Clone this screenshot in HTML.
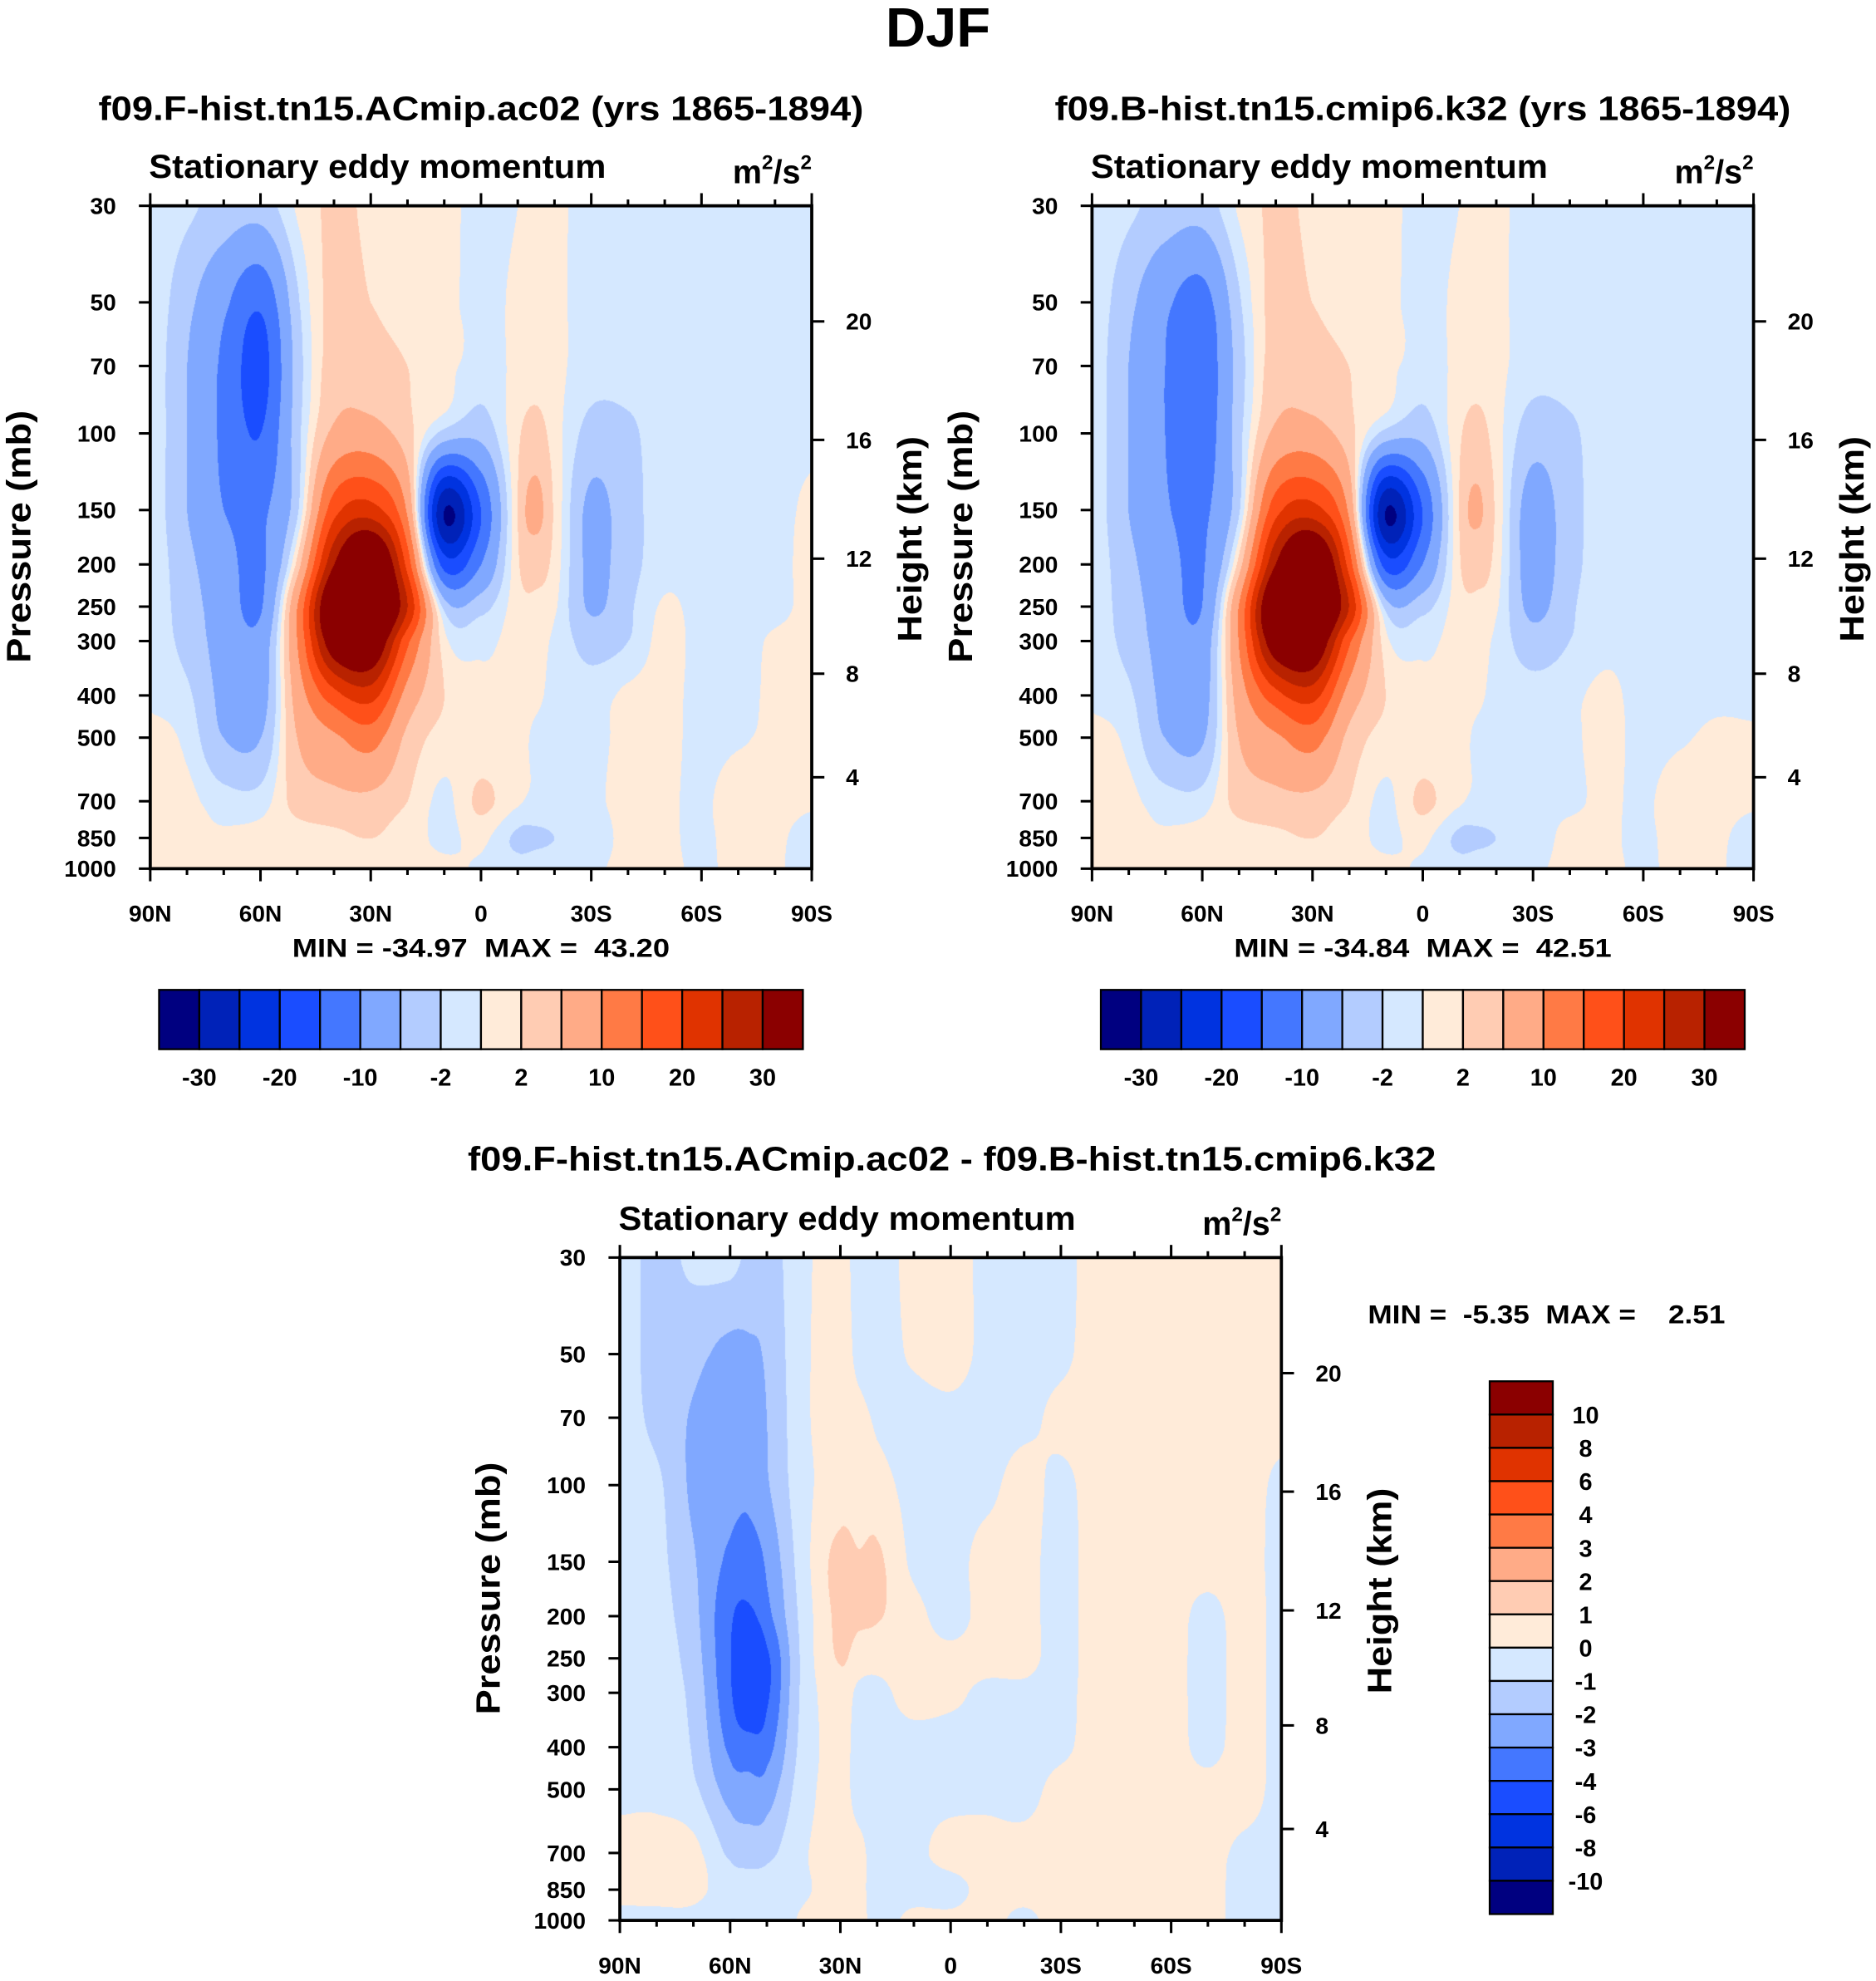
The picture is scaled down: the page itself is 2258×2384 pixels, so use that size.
<!DOCTYPE html>
<html><head><meta charset="utf-8">
<style>
html,body{margin:0;padding:0;background:#fff;}
#wrap{position:relative;width:2258px;height:2384px;overflow:hidden;background:#fff;}
canvas{position:absolute;display:block;}
#ov{position:absolute;left:0;top:0;}
text{font-family:"Liberation Sans",Arial,sans-serif;font-weight:bold;fill:#000;}
</style></head>
<body>
<div id="wrap">
<canvas id="c1"></canvas>
<canvas id="c2"></canvas>
<canvas id="c3"></canvas>
<svg id="ov" width="2258" height="2384" viewBox="0 0 1486 1569" preserveAspectRatio="none" xmlns="http://www.w3.org/2000/svg">
<text x="743" y="37" font-size="44" text-anchor="middle">DJF</text>
<text x="381" y="95" font-size="27" text-anchor="middle" textLength="606" lengthAdjust="spacingAndGlyphs">f09.F-hist.tn15.ACmip.ac02 (yrs 1865-1894)</text>
<text x="1127" y="95" font-size="27" text-anchor="middle" textLength="583" lengthAdjust="spacingAndGlyphs">f09.B-hist.tn15.cmip6.k32 (yrs 1865-1894)</text>
<text x="754" y="927" font-size="27" text-anchor="middle" textLength="767" lengthAdjust="spacingAndGlyphs">f09.F-hist.tn15.ACmip.ac02 - f09.B-hist.tn15.cmip6.k32</text>
<text x="381" y="758" font-size="21" text-anchor="middle" textLength="299" lengthAdjust="spacingAndGlyphs" xml:space="preserve">MIN = -34.97  MAX =  43.20</text>
<text x="1127" y="758" font-size="21" text-anchor="middle" textLength="299" lengthAdjust="spacingAndGlyphs" xml:space="preserve">MIN = -34.84  MAX =  42.51</text>
<text x="1225" y="1048" font-size="21" text-anchor="middle" textLength="283" lengthAdjust="spacingAndGlyphs" xml:space="preserve">MIN =  -5.35  MAX =    2.51</text>
</svg>
</div>
<script>
const SX = 2258/1486, SY = 2384/1569;
const NS = 'http://www.w3.org/2000/svg';
const svg = document.getElementById('ov');

// ---------- data ----------
const levels = [30,50,70,100,150,200,250,300,400,500,700,850,1000];
const bounds12 = [-30,-25,-20,-15,-10,-5,-2,0,2,5,10,15,20,25,30];
const bounds3 = [-10,-8,-6,-4,-3,-2,-1,0,1,2,3,4,6,8,10];
const cbLabels12 = ['-30','-20','-10','-2','2','10','20','30'];
const cbLabels3 = ['-10','-8','-6','-4','-3','-2','-1','0','1','2','3','4','6','8','10'];
const colors = ['#000080','#0022b8','#0033e0','#1a4dff','#4477ff','#80a8ff','#b3ccff','#d5e8ff','#ffebd9','#ffccb3','#ffab87','#ff7a45','#ff5019','#e03300','#b82200','#8b0000'];
const xTickLabels = ['90N','60N','30N','0','30S','60S','90S'];
const xTickLats = [90,60,30,0,-30,-60,-90];
const pTickLabels = [30,50,70,100,150,200,250,300,400,500,700,850,1000];
const hTickLabels = [4,8,12,16,20];
const hTickPressures = [616.6,356.5,194.0,103.5,55.3];

const lats1 = [90,80,70,60,50,40,30,20,10,0,-10,-15,-20,-30,-40,-50,-60,-70,-80,-90];
const field1 = [
[-0.5,-0.5,-0.5,-0.5,-0.5,-0.5,-0.5,-0.5,-0.3,0.5,0.5,0.5,0.5],
[-1.5,-4,-5,-5,-5,-4,-3.5,-3,-1.5,-0.5,0.5,0.3,0.5],
[-3,-9,-11,-11,-10,-8,-7,-6.5,-6,-5,-1,0.3,1],
[-3.5,-14,-17,-15,-11,-11,-10.5,-8,-7,-5,-1,0.8,2],
[0.3,-2.5,-3.5,-3,-2.5,3,10,10,7,5,3,1,1],
[2.5,3,3.5,6,18,30,40,35,18,9,4,1.5,1.5],
[1.5,2,3,7,22,42,45,38,22,12,4,2,1],
[1,1.5,2,3,9,18,25,16,8,4,2,1,0.8],
[0.5,0.5,0.8,-3,-30,-17,-3,0.8,2,1,-0.5,-0.5,0.5],
[-0.5,-0.5,-1,-4,-15,-10,-3,-0.5,0.5,0.5,2.5,0.5,-0.3],
[0,0.3,0.5,1.5,2,1.5,1,0.8,0.5,0.5,0.3,-2.5,-1],
[0.5,0.7,1,3,6,3,1.5,0.8,0.3,-0.3,-0.3,-2.5,-0.5],
[0.5,0.5,0.5,0.8,1.5,1,0.3,-0.5,-0.5,-0.5,-0.5,-2,-0.5],
[-1,-1,-1,-3,-6,-6,-5.5,-3,-1,-0.8,-0.5,-1.5,-0.5],
[-1,-1,-1,-2.5,-3,-3,-2.5,-2,0.5,0.8,0.8,0.8,0.8],
[-0.8,-0.8,-0.8,-0.8,-1,-0.8,0.3,0.8,0.8,0.8,0.5,0.5,0.5],
[-0.8,-0.8,-0.8,-0.8,-0.8,-0.8,-0.8,-0.8,-0.8,-0.8,-0.5,-0.5,-0.3],
[-0.8,-0.8,-0.8,-0.8,-0.8,-0.8,-0.8,-0.8,-0.8,-0.3,1.5,1,0.5],
[-0.5,-0.5,-0.5,-0.5,-0.5,-0.5,-0.5,0.3,0.5,0.5,0.8,0.5,0.3],
[-0.5,-0.5,-0.5,-0.3,0.3,0.5,0.5,0.5,0.5,0.5,0.3,-1,-1]
];
const lats2 = [90,80,70,60,50,40,30,20,10,0,-10,-15,-20,-30,-40,-50,-60,-70,-80,-90];
const field2 = [
[-0.5,-0.5,-0.5,-0.5,-0.5,-0.5,-0.5,-0.5,-0.3,0.5,0.5,0.5,0.5],
[-1.5,-4,-5,-5,-5,-4,-3.5,-3,-1.5,-0.5,0.5,0.3,0.5],
[-3,-9,-10,-10,-9.5,-8,-7,-6.5,-6,-5,-1,0.3,1],
[-3.5,-12,-13.5,-13,-11,-10.5,-10,-8,-7,-5.5,-1,0.8,2],
[0.3,-2.5,-3.5,-3,-2.5,3,10,10,7,5,3,1,1],
[2.5,3,3.5,6,18,30,40,35,18,9,4,1.5,1.5],
[1.5,2,3,7,22,42,44,38,22,12,4,2,1],
[1,1.5,2,3,9,18,25,16,8,4,2,1,0.8],
[0.5,0.5,0.8,-3,-30,-17,-3,0.8,2,1,-0.5,-0.5,0.5],
[-0.5,-0.5,-1,-4,-15,-10,-3,-0.5,0.5,0.5,2.5,0.5,-0.3],
[0,0.3,0.5,1.5,2,1.5,1,0.8,0.5,0.5,0.3,-2.5,-1],
[0.5,0.7,1,3,5.5,3,1.5,0.8,0.3,-0.3,-0.3,-2.5,-0.5],
[0.5,0.5,0.5,0.8,1.5,1,0.3,-0.5,-0.5,-0.5,-0.5,-2,-0.5],
[-1,-1,-1,-3.5,-7,-7,-6,-3.5,-1,-0.8,-0.5,-1.5,-0.5],
[-1,-1,-1,-2.5,-3,-3,-2.5,-2,-0.5,-0.5,-0.5,0.8,0.8],
[-0.8,-0.8,-0.8,-0.8,-1,-0.8,-0.5,-0.5,0.5,0.8,0.5,0.5,0.5],
[-0.8,-0.8,-0.8,-0.8,-0.8,-0.8,-0.8,-0.8,-0.8,-0.8,-0.5,-0.5,-0.3],
[-0.8,-0.8,-0.8,-0.8,-0.8,-0.8,-0.8,-0.8,-0.8,-0.3,1.5,1,0.5],
[-0.5,-0.5,-0.5,-0.5,-0.5,-0.5,-0.5,-0.5,-0.5,0.5,0.8,0.5,0.3],
[-0.5,-0.5,-0.5,-0.5,-0.5,-0.5,-0.5,-0.5,-0.5,0.3,0.3,-1,-1]
];
const lats3 = [90,80,70,60,55,50,40,30,25,20,10,0,-10,-20,-30,-40,-50,-60,-70,-80,-90];
const field3 = [
[-0.5,-0.5,-0.5,-0.5,-0.5,-0.5,-0.4,-0.4,-0.3,-0.2,0.3,0.3,-0.3],
[-1.3,-1.4,-1.3,-0.8,-0.7,-0.6,-0.5,-0.5,-0.4,-0.3,0.5,0.4,-0.3],
[-0.8,-1.7,-2.1,-2.2,-1.9,-1.7,-1.5,-1.3,-1.1,-0.8,0.3,0.3,-0.3],
[-0.7,-2.3,-2.5,-2.6,-3.2,-3.8,-3.9,-3.8,-3.2,-2.4,-1.2,-0.5,-1],
[-1.2,-2.2,-2.6,-2.8,-3.4,-4.2,-5,-5,-3.6,-2.6,-1.5,-0.5,-0.8],
[-1.5,-1.8,-2.0,-2.1,-2.8,-3.3,-4.2,-4.2,-3.4,-2.5,-1.3,-0.5,-0.5],
[-0.2,-0.2,-0.2,-0.3,-0.4,-0.6,-0.7,-0.7,-0.6,-0.4,-0.1,-0.1,0.1],
[0.3,0.4,0.4,0.4,1.4,1.3,1.1,0.5,0.3,0.3,0.3,0.3,0.3],
[-0.3,-0.2,0.2,0.3,1.1,1.2,0.5,-0.2,-0.3,-0.3,0.2,0.2,0.3],
[-0.3,-0.3,-0.1,0.3,1.2,1.1,0.3,-0.2,-0.3,-0.3,-0.3,-0.3,-0.3],
[0.2,0.1,-0.3,-0.3,-0.2,0.3,0.3,0.3,-0.3,-0.3,-0.2,-0.3,0.2],
[0.3,0.3,-0.2,-0.3,-0.3,-0.3,0.2,0.2,-0.4,-0.3,0.3,-0.3,0.2],
[-0.2,-0.2,-0.3,-0.2,0.3,0.3,0.3,-0.2,-0.3,-0.2,0.3,0.3,0.3],
[-0.3,-0.3,-0.2,0.3,0.3,0.3,0.3,-0.2,-0.3,-0.3,0.3,0.3,-0.2],
[-0.3,-0.2,0.2,-0.2,-0.3,-0.3,-0.3,-0.3,-0.2,0.3,0.4,0.4,0.4],
[0.4,0.4,0.4,0.4,0.4,0.4,0.4,0.4,0.4,0.4,0.4,0.4,0.4],
[0.4,0.4,0.4,0.4,0.4,0.4,0.4,0.4,0.4,0.4,0.4,0.4,0.4],
[0.4,0.4,0.4,0.4,0.4,0.4,0.4,0.4,0.4,0.4,0.4,0.4,0.4],
[0.4,0.4,0.4,0.4,0.4,-0.3,-0.4,-0.4,-0.3,0.3,0.3,0.3,0.3],
[0.4,0.4,0.4,0.4,0.4,0.4,0.4,0.4,0.4,0.4,-0.2,-0.3,-0.3],
[0.3,0.3,0.3,-0.2,-0.3,-0.3,-0.3,-0.3,-0.3,-0.3,-0.3,-0.3,-0.3]
];

// ---------- helpers ----------
const PW = 524, PH = 525;
const LOGR = Math.log10(1000/30);
function yOfP(top, p){ return top + Math.log10(p/30)/LOGR*PH; }
function xOfLat(left, lat){ return left + (90-lat)/180*PW; }

function fracIndexLat(lats, lat){
  let i = 0;
  while(i < lats.length-2 && lat < lats[i+1]) i++;
  const t = Math.min(1, Math.max(0, (lats[i]-lat)/(lats[i]-lats[i+1])));
  return i + t;
}
function fracIndexP(p){
  const lp = Math.log(p);
  let j = 0;
  while(j < levels.length-2 && p > levels[j+1]) j++;
  const t = Math.min(1, Math.max(0, (lp-Math.log(levels[j]))/(Math.log(levels[j+1])-Math.log(levels[j]))));
  return j + t;
}
function cr(p0,p1,p2,p3,t){
  return 0.5*((2*p1)+(-p0+p2)*t+(2*p0-5*p1+4*p2-p3)*t*t+(-p0+3*p1-3*p2+p3)*t*t*t);
}
function sample(lats, grid, lat, p){
  const fi = fracIndexLat(lats, lat), fj = fracIndexP(p);
  const ni = lats.length, nj = levels.length;
  const i1 = Math.min(ni-2, Math.floor(fi)), j1 = Math.min(nj-2, Math.floor(fj));
  const ti = fi - i1, tj = fj - j1;
  const ci = k => Math.max(0, Math.min(ni-1, k));
  const cj = k => Math.max(0, Math.min(nj-1, k));
  const rows = [];
  for(let a=-1;a<=2;a++){
    const col = grid[ci(i1+a)];
    rows.push(cr(col[cj(j1-1)], col[cj(j1)], col[cj(j1+1)], col[cj(j1+2)], tj));
  }
  return cr(rows[0], rows[1], rows[2], rows[3], ti);
}
function hexToRgb(h){ return [parseInt(h.slice(1,3),16),parseInt(h.slice(3,5),16),parseInt(h.slice(5,7),16)]; }
const rgb = colors.map(hexToRgb);

function drawField(id, left, top, lats, grid, bounds){
  const cv = document.getElementById(id);
  const W = Math.round(PW*SX), H = Math.round(PH*SY);
  cv.width = W; cv.height = H;
  cv.style.left = (left*SX)+'px'; cv.style.top = (top*SY)+'px';
  cv.style.width = W+'px'; cv.style.height = H+'px';
  const ctx = cv.getContext('2d');
  const img = ctx.createImageData(W, H);
  for(let y=0;y<H;y++){
    const p = 30*Math.pow(10, (y+0.5)/H*LOGR);
    for(let x=0;x<W;x++){
      const lat = 90 - 180*(x+0.5)/W;
      const v = sample(lats, grid, lat, p);
      let k = 0; while(k < bounds.length && v >= bounds[k]) k++;
      const c = rgb[k]; const o = (y*W+x)*4;
      img.data[o]=c[0]; img.data[o+1]=c[1]; img.data[o+2]=c[2]; img.data[o+3]=255;
    }
  }
  ctx.putImageData(img,0,0);
}

function line(x1,y1,x2,y2,w){
  const l = document.createElementNS(NS,'line');
  l.setAttribute('x1',x1); l.setAttribute('y1',y1); l.setAttribute('x2',x2); l.setAttribute('y2',y2);
  l.setAttribute('stroke','#000'); l.setAttribute('stroke-width',w);
  svg.appendChild(l); return l;
}
function txt(x,y,s,size,anchor){
  const t = document.createElementNS(NS,'text');
  t.setAttribute('x',x); t.setAttribute('y',y); t.setAttribute('font-size',size);
  t.setAttribute('text-anchor',anchor||'middle'); t.textContent = s;
  svg.appendChild(t); return t;
}

function drawAxes(pfx, left, top){
  const right = left+PW, bottom = top+PH;
  for(let lat=90; lat>=-90; lat-=10){
    const x = xOfLat(left, lat);
    const major = (lat % 30 === 0);
    const len = major ? 10 : 5;
    const t1 = line(x, top, x, top-len, 2);
    
    
    const t2 = line(x, bottom, x, bottom+len, 2);
    
    
  }
  xTickLabels.forEach((s,i)=>{
    const t = txt(xOfLat(left, xTickLats[i]), bottom+42, s, 18.5);
    
    
  });
  pTickLabels.forEach(p=>{
    const y = yOfP(top,p);
    const tk = line(left, y, left-9, y, 2);
    
    
    const t = txt(left-27, y+6.5, String(p), 18.5, 'end');
    
    
  });
  hTickLabels.forEach((h,i)=>{
    const y = yOfP(top, hTickPressures[i]);
    const tk = line(right, y, right+10, y, 2);
    
    
    const t = txt(right+27, y+6.5, String(h), 18.5, 'start');
    
    
  });
  const fr = document.createElementNS(NS,'rect');
  fr.setAttribute('x',left); fr.setAttribute('y',top); fr.setAttribute('width',PW); fr.setAttribute('height',PH);
  fr.setAttribute('fill','none'); fr.setAttribute('stroke','#000'); fr.setAttribute('stroke-width',2.5);
  
  
  svg.appendChild(fr);
  const st = txt(left-1, top-22, 'Stationary eddy momentum', 26, 'start');
  st.setAttribute('textLength', 362); st.setAttribute('lengthAdjust','spacingAndGlyphs');
  
  
  const un = document.createElementNS(NS,'text');
  un.setAttribute('x', right); un.setAttribute('y', top-18); un.setAttribute('font-size',26); un.setAttribute('text-anchor','end');
  un.innerHTML = 'm<tspan font-size="16" dy="-11">2</tspan><tspan dy="11">/s</tspan><tspan font-size="16" dy="-11">2</tspan>';
  
  
  svg.appendChild(un);
  const yl = txt(0,0,'Pressure (mb)',27);
  yl.setAttribute('transform','translate('+(left-95)+','+(top+262)+') rotate(-90)');
  yl.setAttribute('textLength',200); yl.setAttribute('lengthAdjust','spacingAndGlyphs');
  
  
  const hl = txt(0,0,'Height (km)',27);
  hl.setAttribute('transform','translate('+(right+87)+','+(top+264)+') rotate(-90)');
  hl.setAttribute('textLength',163); hl.setAttribute('lengthAdjust','spacingAndGlyphs');
  
  
}

function hColorbar(pfx, left, top){
  const w = 510/16, h = 47;
  colors.forEach((c,i)=>{
    const r = document.createElementNS(NS,'rect');
    r.setAttribute('x', left+i*w); r.setAttribute('y', top); r.setAttribute('width', w); r.setAttribute('height', h);
    r.setAttribute('fill', c); r.setAttribute('stroke','#000'); r.setAttribute('stroke-width',1.5);
    
    
    svg.appendChild(r);
  });
  cbLabels12.forEach((s,i)=>{
    const t = txt(left+(2*i+1)*w, top+76, s, 19);
    
    
  });
}
function vColorbar(pfx, left, top){
  const w = 50, h = 422/16;
  colors.slice().reverse().forEach((c,i)=>{
    const r = document.createElementNS(NS,'rect');
    r.setAttribute('x', left); r.setAttribute('y', top+i*h); r.setAttribute('width', w); r.setAttribute('height', h);
    r.setAttribute('fill', c); r.setAttribute('stroke','#000'); r.setAttribute('stroke-width',1.5);
    
    
    svg.appendChild(r);
  });
  cbLabels3.slice().reverse().forEach((s,i)=>{
    const t = txt(left+76, top+(i+1)*h+7, s, 19);
    
    
  });
}

drawField('c1', 119, 163, lats1, field1, bounds12);
drawField('c2', 865, 163, lats2, field2, bounds12);
drawField('c3', 491, 996, lats3, field3, bounds3);
drawAxes('panel1', 119, 163);
drawAxes('panel2', 865, 163);
drawAxes('panel3', 491, 996);
hColorbar('panel1', 126, 784);
hColorbar('panel2', 872, 784);
vColorbar('panel3', 1180, 1094);
</script>
</body></html>
